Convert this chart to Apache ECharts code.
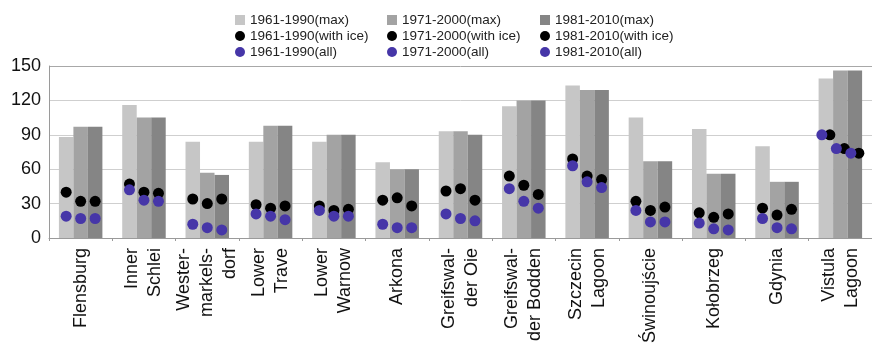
<!DOCTYPE html>
<html>
<head>
<meta charset="utf-8">
<title>Ice-related extremes by station</title>
<script src="https://cdn.jsdelivr.net/npm/echarts@6/dist/echarts.min.js"></script>
<style>
  html, body { margin: 0; padding: 0; background: #fff; }
  #chart { width: 872px; height: 352px; }
</style>
</head>
<body>
<div id="chart"></div>
<script>
// Stations along the southern Baltic coast
const categories = [
  'Flensburg', 'Inner\nSchlei', 'Wester-\nmarkels-\ndorf', 'Lower\nTrave',
  'Lower\nWarnow', 'Arkona', 'Greifswal-\nder Oie', 'Greifswal-\nder Bodden',
  'Szczecin\nLagoon', 'Świnoujście', 'Kołobrzeg', 'Gdynia', 'Vistula\nLagoon'
];

const periods = ['1961-1990', '1971-2000', '1981-2010'];

// Maximum values per reference period
const max6190 = [88, 116, 84, 84, 84, 66, 93, 115, 133, 105, 95, 80, 139];
const max7100 = [97, 105, 57, 98, 90, 60, 93, 120, 129, 67, 56, 49, 146];
const max8110 = [97, 105, 55, 98, 90, 60, 90, 120, 129, 67, 56, 49, 146];

// Mean of winters with ice
const ice6190 = [40, 47, 34, 29, 28, 33, 41, 54, 69, 32, 22, 26, 90];
const ice7100 = [32, 40, 30, 26, 24, 35, 43, 46, 54, 24, 18, 20, 78];
const ice8110 = [32, 39, 34, 28, 25, 28, 33, 38, 51, 27, 21, 25, 74];

// Mean over all winters
const all6190 = [19, 42, 12, 21, 24, 12, 21, 43, 63, 24, 13, 17, 90];
const all7100 = [17, 33, 9, 19, 19, 9, 17, 32, 49, 14, 8, 9, 78];
const all8110 = [17, 32, 7, 16, 19, 9, 15, 26, 44, 14, 7, 8, 74];

// Value axis ticks
const yTicks = [0, 30, 60, 90, 120, 150];

const maxSets = [max6190, max7100, max8110];
const iceSets = [ice6190, ice7100, ice8110];
const allSets = [all6190, all7100, all8110];

const barColors = ['#c6c6c6', '#a3a3a3', '#858585'];
const iceColor = '#000000';
const allColor = '#4636a8';
const BAR_W = 14.5;
const FONT = '"Liberation Sans", Arial, Helvetica, sans-serif';

// Where both dot types coincide, they are pushed slightly apart
const SPLIT_CAT = 12;
const SPLIT_PX = 4;

const series = [];
maxSets.forEach((d, i) => {
  series.push({
    name: periods[i] + '(max)',
    type: 'bar',
    data: d,
    barWidth: BAR_W,
    barGap: 0,
    itemStyle: { color: barColors[i] },
    z: 2
  });
});

function dotSeries(name, values, color, slot, shift) {
  return {
    name: name,
    type: 'scatter',
    symbol: 'circle',
    symbolSize: 11,
    itemStyle: { color: color, opacity: 1 },
    z: 5,
    data: values.map((v, k) => ({
      value: [k, v],
      symbolOffset: [(slot - 1) * BAR_W + (k === SPLIT_CAT ? shift : 0), 0]
    }))
  };
}
iceSets.forEach((d, i) => series.push(dotSeries(periods[i] + '(with ice)', d, iceColor, i, SPLIT_PX)));
allSets.forEach((d, i) => series.push(dotSeries(periods[i] + '(all)', d, allColor, i, -SPLIT_PX)));

function legendColumn(i, left) {
  return {
    orient: 'vertical',
    left: left,
    top: 12,
    itemWidth: 10,
    itemHeight: 10,
    itemGap: 0,
    padding: 0,
    selectedMode: false,
    textStyle: { fontFamily: FONT, fontSize: 13.5, color: '#222', lineHeight: 16 },
    data: [
      { name: periods[i] + '(max)', icon: 'rect' },
      { name: periods[i] + '(with ice)', icon: 'circle' },
      { name: periods[i] + '(all)', icon: 'circle' }
    ]
  };
}

const chart = echarts.init(document.getElementById('chart'), null, { renderer: 'canvas' });
chart.setOption({
  animation: false,
  backgroundColor: '#ffffff',
  legend: [legendColumn(0, 235), legendColumn(1, 387), legendColumn(2, 540)],
  grid: { left: 49, right: -7, top: 66, bottom: 114 },
  xAxis: {
    type: 'category',
    data: categories,
    axisLine: { lineStyle: { color: '#9a9a9a', width: 1 } },
    axisTick: { show: true, length: 3, lineStyle: { color: '#9a9a9a' } },
    axisLabel: {
      interval: 0,
      rotate: 90,
      margin: 10,
      fontFamily: FONT,
      fontSize: 18,
      lineHeight: 23,
      color: '#111'
    }
  },
  yAxis: {
    type: 'value',
    min: yTicks[0],
    max: yTicks[yTicks.length - 1],
    interval: yTicks[1] - yTicks[0],
    axisLine: { show: true, lineStyle: { color: '#9a9a9a', width: 1 } },
    axisTick: { show: false },
    axisLabel: { fontFamily: FONT, fontSize: 18, color: '#111', margin: 8 },
    splitLine: {
      lineStyle: { color: ['#9a9a9a', '#cfcfcf', '#cfcfcf', '#cfcfcf', '#cfcfcf', '#a8a8a8'], width: 1 }
    }
  },
  series: series
});
</script>
</body>
</html>
